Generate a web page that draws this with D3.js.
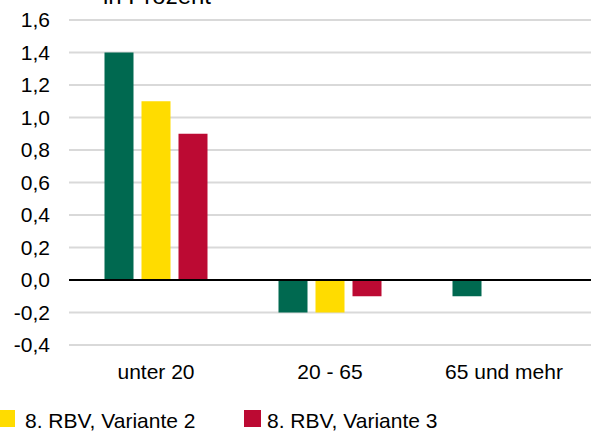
<!DOCTYPE html>
<html><head><meta charset="utf-8">
<script src="https://cdn.jsdelivr.net/npm/d3@7"></script>
<style>
html,body{margin:0;padding:0;background:#fff;overflow:hidden}
text{font-family:"Liberation Sans",Arial,sans-serif;fill:#000}
</style></head>
<body>
<svg id="chart" width="591" height="432"></svg>
<script>
const categories = ["unter 20", "20 - 65", "65 und mehr"];
const seriesNames = ["8. RBV, Variante 1", "8. RBV, Variante 2", "8. RBV, Variante 3"];
const variante1 = [1.4, -0.2, -0.1];
const variante2 = [1.1, -0.2, 0.0];
const variante3 = [0.9, -0.1, 0.0];
const yTicks = [-0.4, -0.2, 0.0, 0.2, 0.4, 0.6, 0.8, 1.0, 1.2, 1.4, 1.6];
const colors = ["#006950", "#FFDC00", "#BC0A33"];
const title = "in Prozent";
const legendShown = [1, 2];

(function () {
const seriesValues = [variante1, variante2, variante3];
const svg = d3.select("#chart");
const mLeft = 69, mRight = 591, mTop = 20, mBottom = 345;

const y = d3.scaleLinear().domain([-0.4, 1.6]).range([mBottom, mTop]);
const x0 = d3.scaleBand().domain(categories).range([mLeft, mRight]).paddingInner(0).paddingOuter(0);
const groupW = 103;
const x1 = d3.scaleBand().domain(d3.range(seriesNames.length)).range([0, groupW]).paddingInner(8/37).paddingOuter(0);

// gridlines
svg.append("g").selectAll("line").data(yTicks.filter(t => t !== 0)).join("line")
  .attr("x1", mLeft).attr("x2", mRight)
  .attr("y1", d => y(d)).attr("y2", d => y(d))
  .attr("stroke", "#d9d9d9").attr("stroke-width", 2);

// y axis labels
const fmt = d => d3.format(".1f")(d).replace(".", ",").replace("\u2212", "-");
const yAxis = d3.axisLeft(y).tickValues(yTicks).tickSize(0).tickPadding(0).tickFormat(fmt);
const yg = svg.append("g").attr("transform", "translate(50,0)").call(yAxis);
yg.select(".domain").remove();
yg.attr("font-family", null).attr("font-size", null);
yg.selectAll("text").style("font-size", "21px");

// bars
const groups = svg.append("g").selectAll("g").data(categories).join("g")
  .attr("transform", d => `translate(${x0(d) + (x0.bandwidth() - groupW) / 2},0)`);
groups.selectAll("rect").data((c, ci) => seriesValues.map((s, si) => ({si, v: s[ci]}))).join("rect")
  .attr("x", d => x1(d.si))
  .attr("width", x1.bandwidth())
  .attr("y", d => Math.min(y(d.v), y(0)))
  .attr("height", d => Math.abs(y(d.v) - y(0)))
  .attr("fill", d => colors[d.si]);

// zero line
svg.append("line").attr("x1", mLeft).attr("x2", mRight)
  .attr("y1", y(0)).attr("y2", y(0)).attr("stroke", "#000").attr("stroke-width", 2);

// category labels
const xAxis = d3.axisBottom(x0).tickSize(0).tickPadding(0);
const xg = svg.append("g").attr("transform", "translate(0,363)").call(xAxis);
xg.select(".domain").remove();
xg.attr("font-family", null).attr("font-size", null);
xg.selectAll("text").style("font-size", "21px").attr("dy", "0.75em");

// title
svg.append("text").attr("x", 157).attr("y", 4).attr("text-anchor", "middle")
  .style("font-size", "24px").text(title);

// legend
const legendPos = [{sx: -2, tx: 25}, {sx: 244, tx: 267}];
const lg = svg.append("g").selectAll("g").data(legendShown).join("g");
lg.append("rect").attr("x", (d, i) => legendPos[i].sx).attr("y", 410)
  .attr("width", 17).attr("height", 17).attr("fill", d => colors[d]);
lg.append("text").attr("x", (d, i) => legendPos[i].tx).attr("y", 428)
  .style("font-size", "21px").text(d => seriesNames[d]);
})();
</script>
</body></html>
